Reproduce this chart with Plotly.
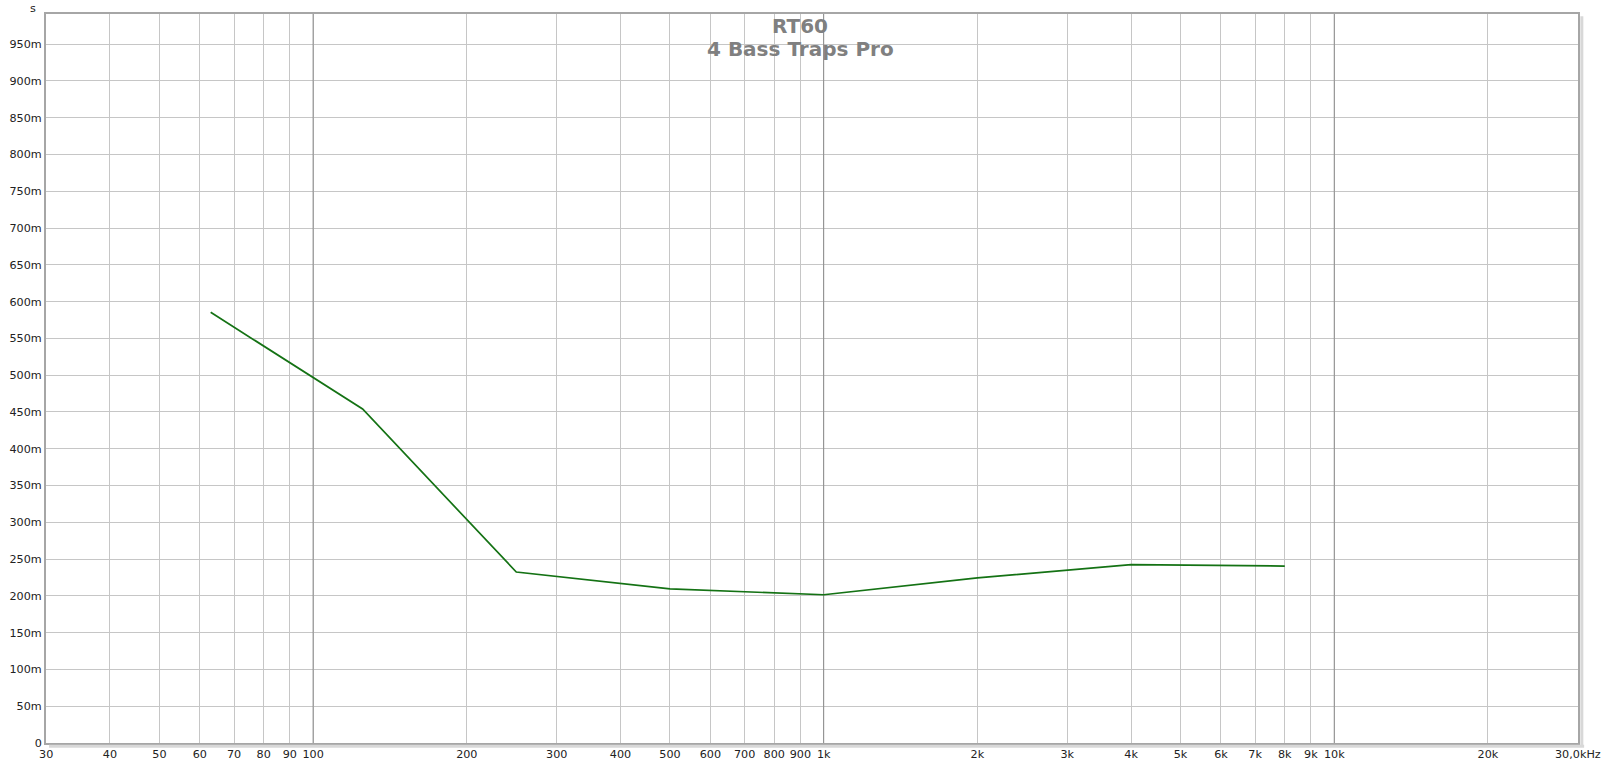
import numpy as np
import plotly.graph_objects as go

# Data
freqs_hz = [63, 125, 250, 500, 1000, 2000, 4000, 8000]
rt60_s = [0.5855, 0.454, 0.2325, 0.2095, 0.2015, 0.2245, 0.2425, 0.2405]

x_tick_vals = [30, 40, 50, 60, 70, 80, 90, 100, 200, 300, 400, 500, 600, 700, 800, 900,
               1000, 2000, 3000, 4000, 5000, 6000, 7000, 8000, 9000, 10000, 20000, 30000]
x_tick_text = ["30", "40", "50", "60", "70", "80", "90", "100", "200", "300", "400", "500",
               "600", "700", "800", "900", "1k", "2k", "3k", "4k", "5k", "6k", "7k", "8k",
               "9k", "10k", "20k", "30,0kHz"]
y_tick_vals = [i * 0.05 for i in range(20)]
y_tick_text = ["0"] + [f"{i*50}m" for i in range(1, 20)]
major_decades = [100, 1000, 10000]

Y_MAX = 0.991
X_MIN, X_MAX = 30, 30000

fig = go.Figure()

# darker decade gridlines
for f in major_decades:
    fig.add_trace(go.Scatter(x=[f, f], y=[0, Y_MAX], mode="lines",
                             line=dict(color="#8c8c8c", width=1),
                             hoverinfo="skip", showlegend=False))

fig.add_trace(go.Scatter(x=freqs_hz, y=rt60_s, mode="lines",
                         line=dict(color="#147214", width=1.7),
                         showlegend=False, name="RT60"))

font_tick = dict(family="DejaVu Sans", size=11.2, color="#222222")
font_title = dict(family="DejaVu Sans", size=20, color="#808080")

fig.update_layout(
    width=1601, height=765,
    margin=dict(l=46, r=23, t=14, b=22),
    paper_bgcolor="#ffffff", plot_bgcolor="#ffffff",
    xaxis=dict(type="log", range=[np.log10(X_MIN) - 0.0003, np.log10(X_MAX) + 0.0003],
               tickvals=x_tick_vals, ticktext=x_tick_text, tickfont=font_tick,
               showgrid=True, gridcolor="#c6c6c6", gridwidth=1, zeroline=False,
               showline=True, linecolor="#a6a6a6", linewidth=2, mirror=True,
               ticks="", ticklen=0, tickangle=0, automargin=False),
    yaxis=dict(range=[0, Y_MAX], tickvals=y_tick_vals, ticktext=y_tick_text,
               tickfont=font_tick, showgrid=True, gridcolor="#c6c6c6", gridwidth=1,
               zeroline=False, showline=True, linecolor="#a6a6a6", linewidth=2,
               mirror=True, ticks="", ticklen=0, automargin=False),
    annotations=[
        dict(text="<b>RT60</b>", xref="paper", yref="paper", x=0.4922, y=0.9832,
             xanchor="center", yanchor="middle", showarrow=False, font=font_title),
        dict(text="<b>4 Bass Traps Pro</b>", xref="paper", yref="paper", x=0.4922, y=0.9524,
             xanchor="center", yanchor="middle", showarrow=False, font=font_title),
        dict(text="s", xref="paper", yref="paper", x=-0.0052, y=1.0192,
             xanchor="right", yanchor="top", showarrow=False, font=font_tick),
    ],
    shapes=[
        dict(type="line", xref="paper", yref="paper", x0=1.0025, x1=1.0025, y0=-0.003, y1=0.997,
             line=dict(color="#d8d8d8", width=3)),
        dict(type="line", xref="paper", yref="paper", x0=0.002, x1=1.004, y0=-0.0045, y1=-0.0045,
             line=dict(color="#d8d8d8", width=3)),
    ],
)

fig.write_html("out.html", config={"displayModeBar": False},
               post_script="document.body.style.margin='0';document.body.style.padding='0';"
                           "document.body.style.overflow='hidden';")
